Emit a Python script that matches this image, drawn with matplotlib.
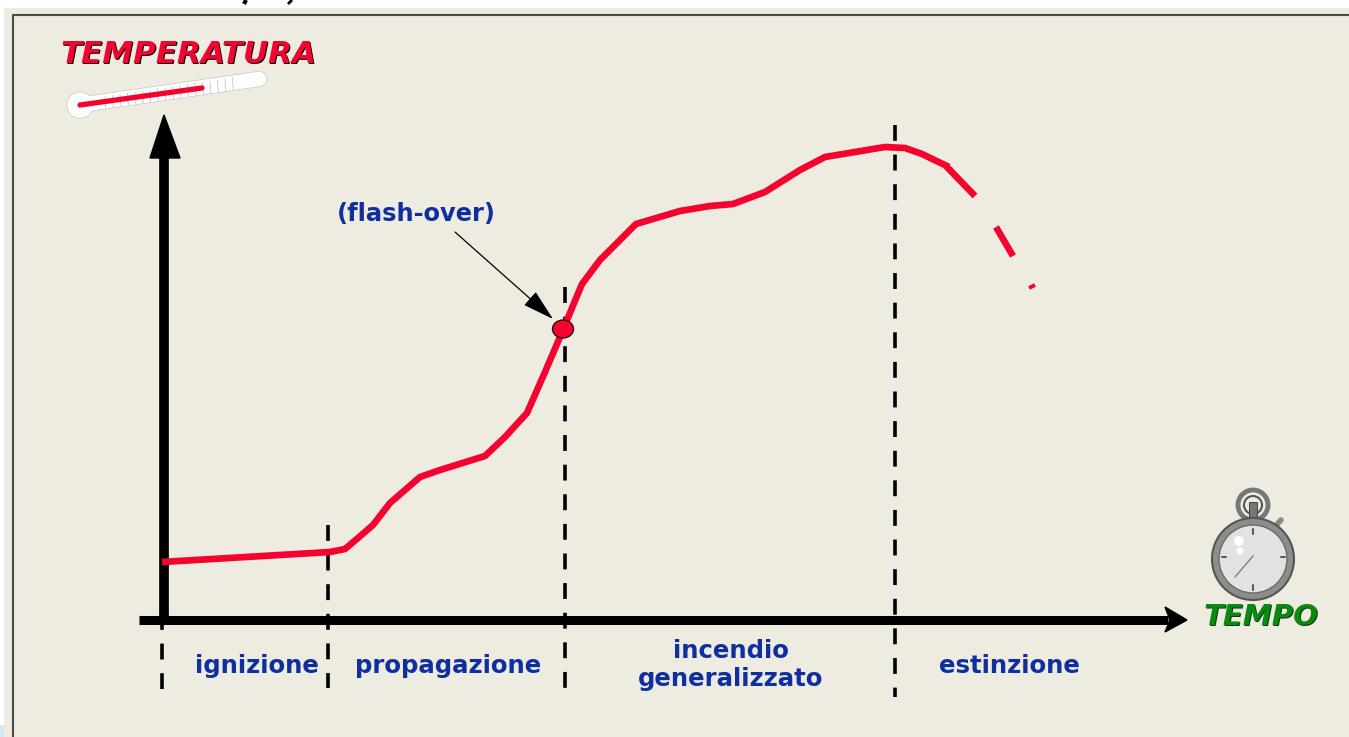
import matplotlib
matplotlib.use('Agg')
import matplotlib.pyplot as plt
from matplotlib.patches import Circle, Ellipse, Rectangle

# values, in image pixels
curve_x = [162, 330, 345, 358, 373, 390, 420, 440, 485, 505, 527, 545, 563, 572, 582, 600, 636, 680, 710, 733, 765, 800, 825, 885, 905, 922, 949]
curve_y = [562, 552, 549, 538, 525, 503, 477, 470, 456, 437, 413, 372, 330, 308, 284, 260, 224, 211, 206, 204, 192, 170, 157, 147, 148, 154, 167]
tail_1_x = [946, 975]
tail_1_y = [166, 196]
tail_2_x = [996, 1013]
tail_2_y = [227, 256]
tail_3_x = [1029, 1035]
tail_3_y = [288, 285]

phase_x = [162, 328, 565, 895]
phase_top = [613.5, 525, 287, 125]
phase_bottom = [689, 688, 697, 697]

labels = ['ignizione', 'propagazione', 'incendio\ngeneralizzato', 'estinzione']
labels_x = [257, 448, 731, 1009]
labels_y = [666, 666, 665, 666]

bg = '#eeebe0'
red = '#f5032f'
blue = '#0f2f9e'

fig = plt.figure(figsize=(13.49, 7.37), dpi=100, facecolor='white')
ax = fig.add_axes([0, 0, 1, 1])
ax.set_xlim(0, 1349)
ax.set_ylim(737, 0)
ax.axis('off')

# panel
ax.add_patch(Rectangle((4, 8), 1345, 729, fc=bg, ec='none', zorder=0))
ax.add_patch(Rectangle((0, 725), 4, 12, fc='#d5e8f5', ec='none', zorder=0))
ax.plot([13, 13, 1349], [737, 15, 15], color='#4a4a48', lw=1.5, zorder=1)

# what is left of the cropped heading above the panel
ax.plot([246, 244], [0, 4], color='black', lw=3, solid_capstyle='butt', zorder=1)
ax.plot([292, 288], [0, 4], color='black', lw=2, solid_capstyle='butt', zorder=1)

# axes arrows
ax.plot([164, 164], [620, 155], color='black', lw=7, solid_capstyle='butt', zorder=3)
ax.fill([150, 164, 180], [158, 115, 158], color='black', zorder=3)
ax.plot([139, 1168], [620, 620], color='black', lw=6.5, solid_capstyle='butt', zorder=3)
ax.fill([1165, 1187, 1165, 1170], [607, 620, 632, 620], color='black', zorder=3)

# phase separators
for x, top, bottom in zip(phase_x, phase_top, phase_bottom):
    ax.plot([x, x], [top, bottom], color='black', lw=2.6, dashes=(4.4, 3.8), dash_capstyle='butt', zorder=2)

# temperature curve
ax.plot(curve_x, curve_y, color=red, lw=4.8, solid_joinstyle='round', solid_capstyle='butt', zorder=4)
ax.plot(tail_1_x, tail_1_y, color=red, lw=4.8, solid_capstyle='butt', zorder=4)
ax.plot(tail_2_x, tail_2_y, color=red, lw=4.8, solid_capstyle='butt', zorder=4)
ax.plot(tail_3_x, tail_3_y, color=red, lw=2.8, solid_capstyle='butt', zorder=4)

# flash-over marker and arrow
ax.add_patch(Ellipse((563, 329), 21, 18, fc=red, ec='#301018', lw=1, zorder=5))
ax.annotate('', xy=(553, 319), xytext=(455, 232),
            arrowprops=dict(arrowstyle='-|>,head_length=1.0,head_width=0.28', color='black', lw=0.9,
                            shrinkA=0, shrinkB=0, mutation_scale=20), zorder=5)
ax.text(416, 214, '(flash-over)', color=blue, fontsize=17.4, fontweight='bold', family='DejaVu Sans',
        ha='center', va='center', zorder=6)

# phase names
for x, y, name in zip(labels_x, labels_y, labels):
    ax.text(x, y, name, color=blue, fontsize=17.6, fontweight='bold', family='DejaVu Sans',
            ha='center', va='center', linespacing=1.24, zorder=6)

# axis titles with hard shadow
ax.text(190, 55, 'TEMPERATURA', color='black', fontsize=22.3, fontweight='bold', style='italic',
        family='DejaVu Sans', ha='center', va='center', zorder=6)
ax.text(188.5, 54, 'TEMPERATURA', color=red, fontsize=22.3, fontweight='bold', style='italic',
        family='DejaVu Sans', ha='center', va='center', zorder=7)
ax.text(1262, 618, 'TEMPO', color='#063d06', fontsize=21, fontweight='bold', style='italic',
        family='DejaVu Sans', ha='center', va='center', zorder=6)
ax.text(1261, 617, 'TEMPO', color='#0b8a12', fontsize=21, fontweight='bold', style='italic',
        family='DejaVu Sans', ha='center', va='center', zorder=7)

# thermometer
ax.add_patch(Circle((80, 105), 13.5, fc='#c8c8c4', ec='none', zorder=3))
ax.plot([80, 259], [105, 79], color='#c8c8c4', lw=11.5, solid_capstyle='round', zorder=3)
ax.plot([80, 259], [105, 79], color='white', lw=10.5, solid_capstyle='round', zorder=3)
ax.add_patch(Circle((80, 105), 12.8, fc='white', ec='none', zorder=3))
ax.plot([80, 202], [105, 88], color=red, lw=3.8, solid_capstyle='round', zorder=4)
for t in [i * 7.5 for i in range(18)]:
    ax.plot([105 + t, 105 + t + 0.8], [96.5 - t * 0.145, 108 - t * 0.145], color='#c4c4c0', lw=0.6, zorder=3)

# stopwatch
ax.add_patch(Circle((1253, 505), 15, fc='none', ec='#777777', lw=3.5, zorder=3))
ax.add_patch(Circle((1253, 505), 9, fc='none', ec='#555555', lw=1.5, zorder=3))
ax.add_patch(Rectangle((1249, 502), 8, 18, fc='#777777', ec='#333333', lw=0.6, zorder=4))
ax.plot([1272, 1281], [530, 520], color='#8a8a88', lw=4, solid_capstyle='round', zorder=3)
ax.add_patch(Circle((1253, 559), 41, fc='#8d8d8b', ec='#555553', lw=1.5, zorder=4))
ax.add_patch(Circle((1253, 559), 34, fc='#e2e2e0', ec='#6a6a68', lw=1, zorder=5))
ax.add_patch(Circle((1239, 541), 5, fc='white', ec='none', zorder=6))
ax.add_patch(Circle((1240, 551), 3.5, fc='white', ec='none', zorder=6))
ax.plot([1253, 1235], [556, 577], color='#777777', lw=0.9, zorder=6)
ax.plot([1253, 1253], [529, 534], color='#333333', lw=1.1, zorder=6)
ax.plot([1253, 1253], [585, 590], color='#333333', lw=1.1, zorder=6)
ax.plot([1222, 1226], [557, 557], color='#333333', lw=1.1, zorder=6)
ax.plot([1281, 1285], [557, 557], color='#333333', lw=1.1, zorder=6)

fig.savefig('out.png', dpi=100, facecolor='white')
